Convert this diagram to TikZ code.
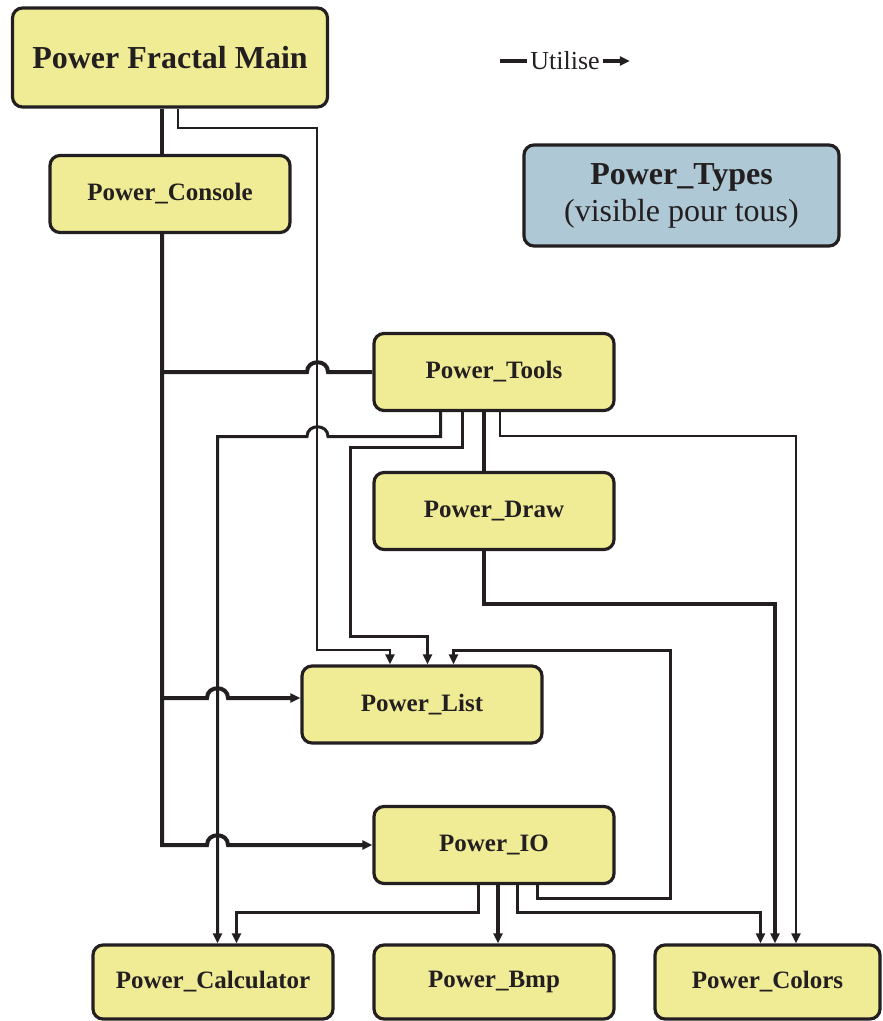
\documentclass[tikz,border=0pt]{standalone}
\usepackage{fontspec}
\setmainfont{Liberation Serif}
\usetikzlibrary{arrows.meta,calc}
\definecolor{ink}{HTML}{231F20}
\definecolor{pkgfill}{HTML}{F0EC96}
\definecolor{typesfill}{HTML}{AEC8D6}
\begin{document}
\begin{tikzpicture}[x=1pt,y=-1pt,
  pkg/.style={draw=ink, line width=3.2pt, fill=pkgfill, rounded corners=10pt,
    minimum width=240pt, minimum height=77pt, inner sep=0pt, text=ink,
    font=\bfseries\fontsize{25}{27}\selectfont},
  wire A/.style={draw=ink, line width=4pt},
  wire B/.style={draw=ink, line width=3pt},
  wire C/.style={draw=ink, line width=2pt},
  tip/.style={-{Triangle[length=10pt,width=9pt]}},
]
\useasboundingbox (0,0) rectangle (883,1021);

% packages
\node[pkg, minimum width=315pt, minimum height=99pt,
  font=\bfseries\fontsize{32}{36}\selectfont] (main) at (170,57.5) {Power Fractal Main};
\node[pkg] (console) at (170,194) {Power\_Console};
\node[pkg, fill=typesfill, minimum width=315pt, minimum height=101pt,
  font=\fontsize{32}{37}\selectfont, align=center] (types) at (681.5,195.5)
  {{\bfseries Power\_Types}\\(visible pour tous)};
\node[pkg] (tools) at (494,372) {Power\_Tools};
\node[pkg] (draw) at (494,511) {Power\_Draw};
\node[pkg] (list) at (422,704.5) {Power\_List};
\node[pkg] (io) at (494,845) {Power\_IO};
\node[pkg, minimum height=74pt] (calc) at (213,982) {Power\_Calculator};
\node[pkg, minimum height=74pt] (bmp) at (494,982) {Power\_Bmp};
\node[pkg, minimum width=225pt, minimum height=74pt] (colors) at (767.5,982) {Power\_Colors};

% legend
\node[text=ink, font=\fontsize{26}{28}\selectfont, inner sep=3pt] (legend) at (565,61) {Utilise};
\coordinate (legA) at ([xshift=-27pt]legend.west);
\coordinate (legB) at ([xshift=27pt]legend.east);
\draw[wire A] (legA) -- (legend.west);
\draw[wire A, tip] (legend.east) -- (legB);

% main program
\draw[wire A] ([xshift=-8pt]main.south) -- ([xshift=-8pt]console.north);
\draw[wire C, tip] ([xshift=8pt]main.south) |- (317,128) |- (390,650) -- ([xshift=-32pt]list.north);

% console bus
\coordinate (bus) at ([xshift=-8pt]console.south);
\draw[wire A, tip] (bus) -- (bus |- io.west) -- (207,845)
  .. controls (207,832) and (228,832) .. (228,845) -- (io.west);
\draw[wire A] (bus |- tools.west) -- (307,372)
  .. controls (307,359) and (328,359) .. (328,372) -- (tools.west);
\draw[wire A, tip] (bus |- 0,698) -- (207,698)
  .. controls (207,685) and (228,685) .. (228,698) -- (list.west |- 0,698);

% tools
\draw[wire B, tip] ([xshift=-53.5pt]tools.south) |- (328,436.5)
  .. controls (328,423.5) and (307,423.5) .. (307,436.5) -- (217.5,436.5) -- ([xshift=4.5pt]calc.north);
\draw[wire B, tip] ([xshift=-31.5pt]tools.south) |- (350.5,447.5) |- (427.5,636.5) -- ([xshift=5.5pt]list.north);
\draw[wire A] ([xshift=-10pt]tools.south) -- ([xshift=-10pt]draw.north);
\draw[wire C, tip] ([xshift=6pt]tools.south) |- (796,436) -- ([xshift=28.5pt]colors.north);

% draw
\draw[wire A, tip] ([xshift=-10pt]draw.south) |- (775,604) -- ([xshift=7.5pt]colors.north);

% io
\draw[wire B, tip] ([xshift=-15.5pt]io.south) |- (236.5,912.5) -- ([xshift=23.5pt]calc.north);
\draw[wire A, tip] ([xshift=4pt]io.south) -- ([xshift=4pt]bmp.north);
\draw[wire B, tip] ([xshift=23.5pt]io.south) |- (760.5,912.5) -- ([xshift=-7pt]colors.north);
\draw[wire B, tip] ([xshift=43.5pt]io.south) |- (670.5,898.5) |- (453.5,650.5) -- ([xshift=31.5pt]list.north);
\end{tikzpicture}
\end{document}
